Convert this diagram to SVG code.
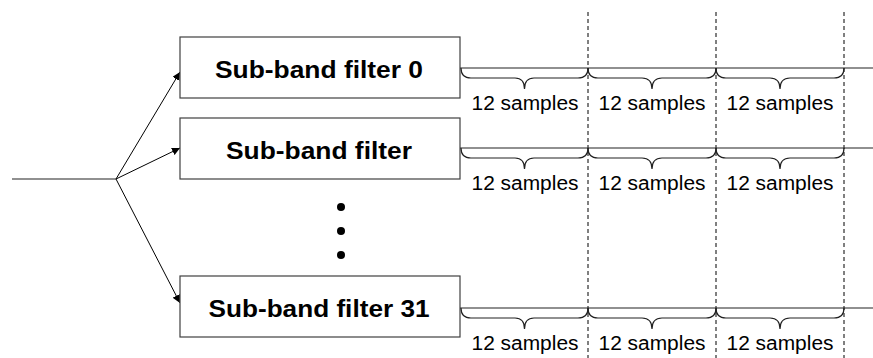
<svg xmlns="http://www.w3.org/2000/svg" width="873" height="358" viewBox="0 0 873 358">
<style>
.box{fill:#fff;stroke:#404040;stroke-width:1.2}
.ttl{font-family:"Liberation Sans",Arial,sans-serif;font-weight:bold;font-size:23px;fill:#000;text-anchor:middle}
.lbl{font-family:"Liberation Sans",Arial,sans-serif;font-size:19.5px;fill:#000;text-anchor:middle}
.ln{stroke:#222;stroke-width:1.2;fill:none}
.arr{stroke:#000;stroke-width:1;fill:none;marker-end:url(#ah)}
.dash{stroke:#000;stroke-width:1;stroke-dasharray:4 3;fill:none}
.brace{stroke:#222;stroke-width:1.2;fill:none}
</style>
<defs>
<marker id="ah" viewBox="0 0 10 10" refX="10" refY="5" markerWidth="8" markerHeight="8" markerUnits="userSpaceOnUse" orient="auto">
<path d="M0,0 L10,5 L0,10 z" fill="#000"/>
</marker>
</defs>
<g id="dashes">
<line class="dash" x1="588" y1="12" x2="588" y2="358"/>
<line class="dash" x1="716" y1="12" x2="716" y2="358"/>
<line class="dash" x1="844" y1="12" x2="844" y2="358"/>
</g>
<g id="connectors">
<line class="ln" x1="12" y1="179" x2="116" y2="179"/>
<line class="arr" x1="116" y1="179" x2="180" y2="72"/>
<line class="arr" x1="116" y1="179" x2="180" y2="148"/>
<line class="arr" x1="116" y1="179" x2="180" y2="303"/>
<line class="ln" x1="460" y1="68" x2="873" y2="68"/>
<line class="ln" x1="460" y1="148" x2="873" y2="148"/>
<line class="ln" x1="460" y1="308" x2="873" y2="308"/>
</g>
<g id="filter0">
<rect class="box" x="180" y="37" width="280" height="61"/>
<text class="ttl" x="319" y="77.5" textLength="208" lengthAdjust="spacingAndGlyphs">Sub-band filter 0</text>
</g>
<g id="filter1">
<rect class="box" x="180" y="118" width="280" height="61"/>
<text class="ttl" x="319" y="158.5" textLength="186" lengthAdjust="spacingAndGlyphs">Sub-band filter</text>
</g>
<g id="dots">
<circle cx="341" cy="207" r="4"/>
<circle cx="341" cy="231" r="4"/>
<circle cx="341" cy="255" r="4"/>
</g>
<g id="filter31">
<rect class="box" x="180" y="276" width="280" height="61"/>
<text class="ttl" x="319" y="316.5" textLength="221" lengthAdjust="spacingAndGlyphs">Sub-band filter 31</text>
</g>
<g id="braces">
<path class="brace" d="M461,68 Q461,78 471,78 L515,78 Q524.5,78 524.5,89 Q524.5,78 534,78 L578,78 Q588,78 588,68"/>
<path class="brace" d="M588,68 Q588,78 598,78 L642,78 Q652,78 652,89 Q652,78 662,78 L706,78 Q716,78 716,68"/>
<path class="brace" d="M716,68 Q716,78 726,78 L770,78 Q780,78 780,89 Q780,78 790,78 L834,78 Q844,78 844,68"/>
<path class="brace" d="M461,148 Q461,158 471,158 L515,158 Q524.5,158 524.5,169 Q524.5,158 534,158 L578,158 Q588,158 588,148"/>
<path class="brace" d="M588,148 Q588,158 598,158 L642,158 Q652,158 652,169 Q652,158 662,158 L706,158 Q716,158 716,148"/>
<path class="brace" d="M716,148 Q716,158 726,158 L770,158 Q780,158 780,169 Q780,158 790,158 L834,158 Q844,158 844,148"/>
<path class="brace" d="M461,308 Q461,318 471,318 L515,318 Q524.5,318 524.5,329 Q524.5,318 534,318 L578,318 Q588,318 588,308"/>
<path class="brace" d="M588,308 Q588,318 598,318 L642,318 Q652,318 652,329 Q652,318 662,318 L706,318 Q716,318 716,308"/>
<path class="brace" d="M716,308 Q716,318 726,318 L770,318 Q780,318 780,329 Q780,318 790,318 L834,318 Q844,318 844,308"/>
</g>
<g id="labels">
<text class="lbl" x="525" y="110" textLength="107" lengthAdjust="spacingAndGlyphs">12 samples</text>
<text class="lbl" x="652" y="110" textLength="107" lengthAdjust="spacingAndGlyphs">12 samples</text>
<text class="lbl" x="780" y="110" textLength="107" lengthAdjust="spacingAndGlyphs">12 samples</text>
<text class="lbl" x="525" y="190" textLength="107" lengthAdjust="spacingAndGlyphs">12 samples</text>
<text class="lbl" x="652" y="190" textLength="107" lengthAdjust="spacingAndGlyphs">12 samples</text>
<text class="lbl" x="780" y="190" textLength="107" lengthAdjust="spacingAndGlyphs">12 samples</text>
<text class="lbl" x="525" y="350" textLength="107" lengthAdjust="spacingAndGlyphs">12 samples</text>
<text class="lbl" x="652" y="350" textLength="107" lengthAdjust="spacingAndGlyphs">12 samples</text>
<text class="lbl" x="780" y="350" textLength="107" lengthAdjust="spacingAndGlyphs">12 samples</text>
</g>
</svg>
